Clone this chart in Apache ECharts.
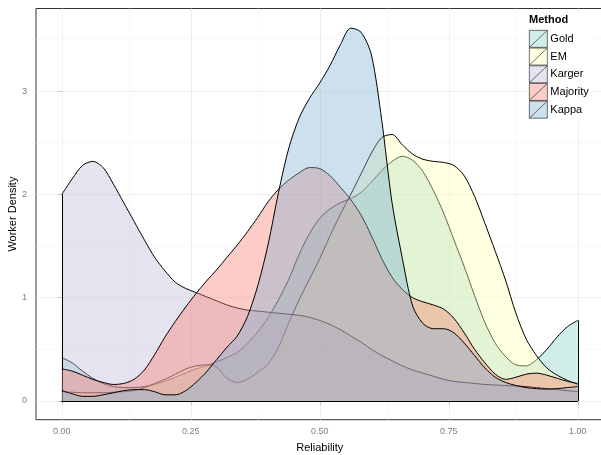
<!DOCTYPE html>
<html><head><meta charset="utf-8">
<script src="https://cdn.jsdelivr.net/npm/echarts@6/dist/echarts.min.js"></script>
<style>html,body{margin:0;padding:0;background:#fff}#c{width:601px;height:455px}</style>
</head><body><div id="c"></div>
<script>
// x grid (Reliability)
const reliability = [0,0.02,0.04,0.06,0.08,0.10,0.12,0.14,0.16,0.18,0.20,0.22,0.24,0.26,0.28,0.30,0.32,0.34,0.36,0.38,0.40,0.42,0.44,0.46,0.48,0.50,0.52,0.54,0.56,0.58,0.60,0.62,0.64,0.66,0.68,0.70,0.72,0.74,0.76,0.78,0.80,0.82,0.84,0.86,0.88,0.90,0.92,0.94,0.96,0.98,1.00];
const gold = [0.42,0.37,0.29,0.22,0.17,0.14,0.13,0.13,0.14,0.16,0.19,0.23,0.27,0.31,0.34,0.38,0.42,0.47,0.56,0.67,0.81,0.98,1.18,1.42,1.62,1.77,1.86,1.92,1.96,2.02,2.12,2.23,2.32,2.37,2.33,2.22,2.04,1.82,1.56,1.30,1.02,0.76,0.56,0.43,0.35,0.34,0.40,0.50,0.62,0.72,0.78];
const em = [0.09,0.085,0.08,0.08,0.08,0.085,0.09,0.10,0.13,0.17,0.21,0.26,0.31,0.34,0.35,0.33,0.22,0.18,0.21,0.28,0.36,0.52,0.76,0.98,1.18,1.38,1.60,1.81,2.00,2.20,2.40,2.55,2.58,2.48,2.39,2.34,2.32,2.31,2.28,2.18,1.98,1.72,1.45,1.17,0.85,0.60,0.44,0.32,0.25,0.20,0.16];
const karger = [2.00,2.15,2.28,2.32,2.26,2.10,1.92,1.74,1.56,1.39,1.26,1.15,1.09,1.05,1.01,0.97,0.93,0.90,0.88,0.87,0.86,0.85,0.84,0.83,0.81,0.78,0.74,0.69,0.63,0.57,0.50,0.44,0.39,0.34,0.30,0.27,0.24,0.21,0.19,0.18,0.17,0.16,0.155,0.15,0.145,0.14,0.13,0.12,0.11,0.10,0.09];
const majority = [0.31,0.29,0.25,0.21,0.18,0.16,0.17,0.21,0.30,0.45,0.62,0.77,0.91,1.04,1.16,1.27,1.39,1.51,1.64,1.78,1.93,2.05,2.14,2.21,2.26,2.25,2.18,2.07,1.95,1.80,1.60,1.38,1.20,1.08,1.00,0.96,0.93,0.89,0.80,0.66,0.50,0.37,0.26,0.21,0.23,0.26,0.27,0.25,0.22,0.19,0.17];
const kappa = [0.10,0.07,0.045,0.045,0.06,0.08,0.10,0.11,0.11,0.09,0.06,0.06,0.10,0.18,0.28,0.40,0.52,0.63,0.82,1.12,1.52,2.02,2.45,2.74,2.93,3.08,3.25,3.45,3.61,3.57,3.35,2.72,1.92,1.38,0.92,0.75,0.70,0.70,0.66,0.56,0.44,0.32,0.23,0.18,0.15,0.13,0.12,0.115,0.12,0.13,0.14];

const methods = ['Gold','EM','Karger','Majority','Kappa'];
const values = [gold, em, karger, majority, kappa];
const fills = ['#8DD3C7','#FFFFB3','#BEBADA','#FB8072','#80B1D3'];
const xTicks = [0,0.25,0.5,0.75,1];
const xMinor = [0.125,0.375,0.625,0.875];
const yTicks = [0,1,2,3];
const yMinor = [0.5,1.5,2.5,3.5];

const FONT = 'Liberation Sans, Arial, sans-serif';
function rgba(hex,a){const n=parseInt(hex.slice(1),16);return `rgba(${n>>16&255},${n>>8&255},${n&255},${a})`;}

const chart = echarts.init(document.getElementById('c'), null, {renderer:'canvas'});

const gridLines = [
  ...xMinor.map(v=>({xAxis:v, lineStyle:{color:'#f5f5f5',width:0.6,type:'solid'}})),
  ...yMinor.map(v=>({yAxis:v, lineStyle:{color:'#f5f5f5',width:0.6,type:'solid'}})),
  ...xTicks.map(v=>({xAxis:v, lineStyle:{color:'#ebebeb',width:0.8,type:'solid'}})),
  ...yTicks.map(v=>({yAxis:v, lineStyle:{color:'#ebebeb',width:0.8,type:'solid'}}))
];

const series = [{
  type:'line', name:'_grid', data:[], silent:true, z:1,
  markLine:{silent:true, symbol:'none', z:1, animation:false, label:{show:false}, emphasis:{disabled:true}, data:gridLines}
}];
methods.forEach((m,i)=>{
  const vals = values[i];
  const x0 = reliability[0], x1 = reliability[reliability.length-1];
  series.push({
    name:m, type:'line', z:2+i,
    data: reliability.map((x,j)=>[x, vals[j]]),
    smooth:0.3, showSymbol:false, symbol:'none',
    lineStyle:{color:'#000', width:1},
    itemStyle:{color:fills[i]},
    areaStyle:{color:fills[i], opacity:0.4},
    emphasis:{disabled:true},
    markLine:{silent:true, symbol:'none', animation:false, label:{show:false}, emphasis:{disabled:true},
      lineStyle:{color:'#000', width:1, type:'solid'},
      data:[
        [{coord:[x0,0]},{coord:[x0,vals[0]]}],
        [{coord:[x1,0]},{coord:[x1,vals[vals.length-1]]}],
        [{coord:[x0,0]},{coord:[x1,0],lineStyle:{width:1.1}}]
      ]}
  });
});

chart.setOption({
  animation:false,
  backgroundColor:'#fff',
  textStyle:{fontFamily:FONT},
  grid:{left:36, top:8.5, width:567.6, height:411.2, outerBoundsMode:'none', containLabel:false,
    show:true, borderColor:'#333', borderWidth:1, backgroundColor:'transparent'},
  xAxis:{type:'value', min:-0.05, max:1.05,
    name:'Reliability', nameLocation:'middle', nameGap:23, nameMoveOverlap:false,
    nameTextStyle:{color:'#000', fontSize:11, fontFamily:FONT},
    axisLine:{show:false},
    axisTick:{show:true, customValues:xTicks, length:4, lineStyle:{color:'#333'}},
    axisLabel:{customValues:xTicks, formatter:v=>v.toFixed(2), color:'#7f7f7f', fontSize:9, margin:7, fontFamily:FONT},
    splitLine:{show:false}},
  yAxis:{type:'value', min:-0.181, max:3.80,
    name:'Worker Density', nameLocation:'middle', nameGap:18, nameMoveOverlap:false,
    nameTextStyle:{color:'#000', fontSize:11, fontFamily:FONT},
    axisLine:{show:false},
    axisTick:{show:true, customValues:yTicks, length:4, lineStyle:{color:'#333'}},
    axisLabel:{customValues:yTicks, formatter:v=>String(v), color:'#7f7f7f', fontSize:9, margin:9, fontFamily:FONT},
    splitLine:{show:false}},
  legend:{
    orient:'vertical', left:526, top:12, padding:[18,4,3,3], itemGap:0,
    itemWidth:18, itemHeight:17, backgroundColor:'#fff',
    icon:'path://M0,0L18,0L18,17L0,17ZM0,17L18,0',
    textStyle:{color:'#000', fontSize:11, fontFamily:FONT, padding:[0,0,0,-2]},
    data: methods.map((m,i)=>({name:m, itemStyle:{color:rgba(fills[i],0.4), borderColor:'#333', borderWidth:0.7}}))
  },
  graphic:[{type:'text', left:529, top:14, z:100, style:{text:'Method', font:'bold 11px '+FONT, fill:'#000'}}],
  series
});
</script></body></html>
